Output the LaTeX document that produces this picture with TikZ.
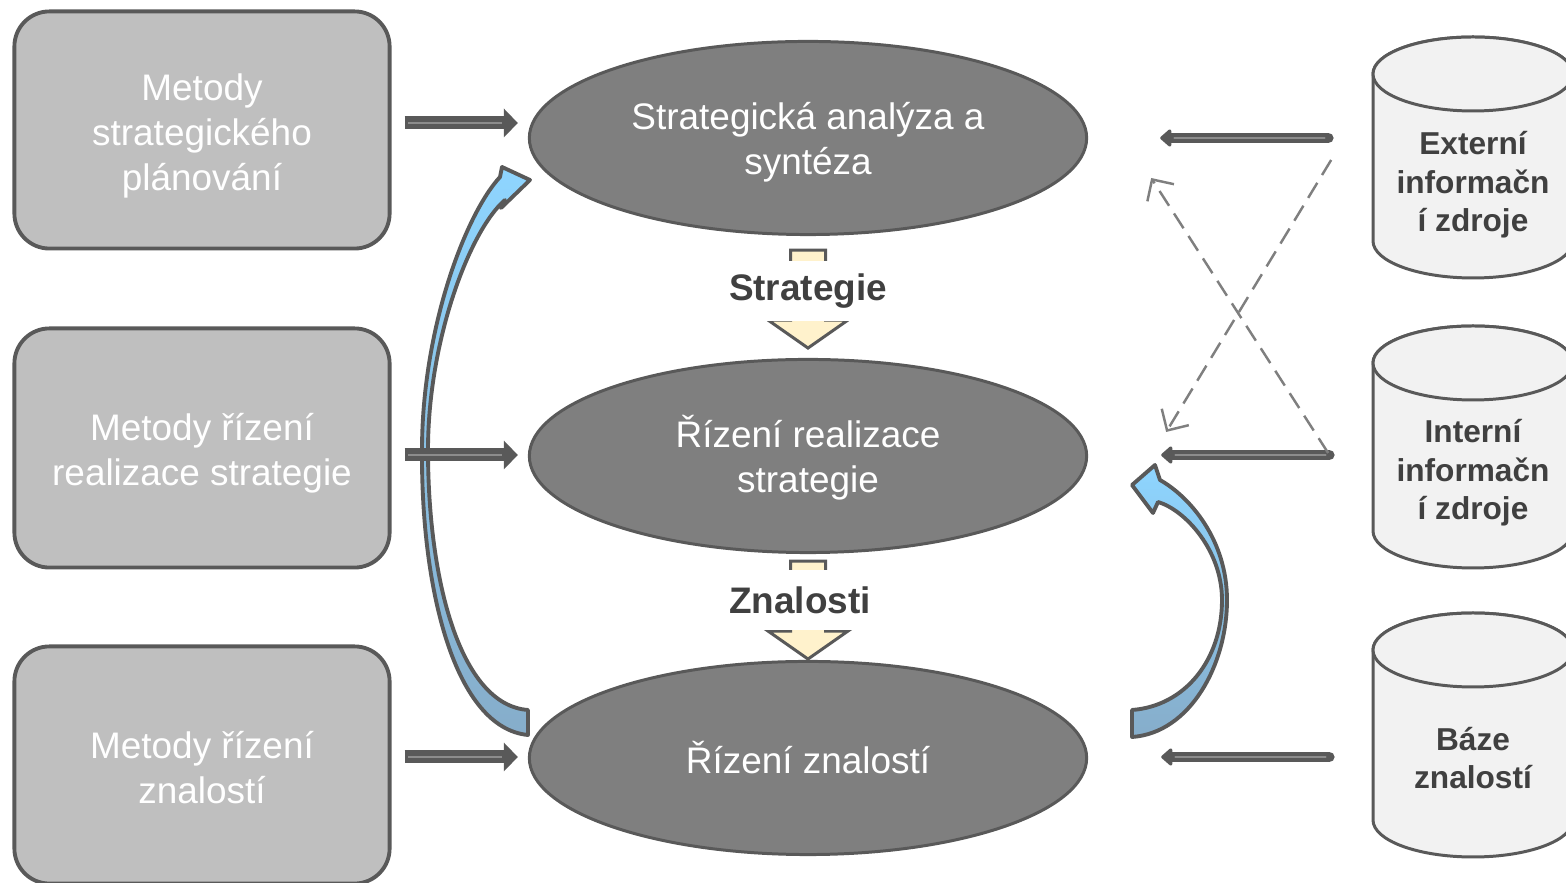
\documentclass[tikz,border=0pt]{standalone}
\usepackage{fontspec}
\setmainfont{Liberation Sans}
\usetikzlibrary{shapes.geometric,arrows.meta,calc}

\definecolor{edgegray}{HTML}{595959}
\definecolor{boxgray}{HTML}{BFBFBF}
\definecolor{ellgray}{HTML}{7F7F7F}
\definecolor{cylgray}{HTML}{F2F2F2}
\definecolor{labelgray}{HTML}{404040}
\definecolor{midgray}{HTML}{8C8C8C}
\definecolor{paleyellow}{HTML}{FFF2CC}
\definecolor{skyblue}{HTML}{8ED5FF}
\definecolor{steelblue}{HTML}{86ADCA}

\begin{document}
\begin{tikzpicture}[x=0.01cm, y=0.01cm,
  methodbox/.style={draw=edgegray, fill=boxgray, line width=1.1pt, rounded corners=0.35cm,
    minimum width=3.75cm, minimum height=2.37cm, text=white, align=center,
    font=\fontsize{10.5}{12.8}\selectfont},
  stageell/.style={ellipse, draw=edgegray, fill=ellgray, line width=0.85pt, inner sep=0pt,
    minimum width=5.57cm, minimum height=1.93cm, text=white, align=center,
    font=\fontsize{10.5}{12.8}\selectfont},
  cylbody/.style={draw=edgegray, fill=cylgray, line width=0.85pt},
  sourcetext/.style={text=labelgray, align=center, font=\bfseries\fontsize{9}{11}\selectfont},
  flowlabel/.style={fill=white, text=labelgray, minimum height=0.6cm, inner xsep=3pt,
    font=\bfseries\fontsize{10.5}{12.8}\selectfont},
  blockarr/.style={draw=edgegray, fill=paleyellow, line width=0.85pt},
  rightarr/.style={draw=edgegray, line width=3.7pt, -{Triangle[width=8pt,length=4pt]},
    postaction={draw=midgray, line width=0.6pt, -, shorten >=4.5pt, shorten <=1pt}},
  leftarr/.style={draw=edgegray, line width=3.1pt, line cap=round, -{Triangle[width=5.7pt,length=3.4pt,round]},
    postaction={draw=midgray, line width=0.5pt, -, shorten >=4pt, shorten <=1pt}},
  crossarr/.style={draw=ellgray, line width=0.7pt, dash pattern=on 5pt off 2.6pt,
    -{Straight Barb[length=4.5pt,width=9pt]}},
  bendarr/.style={draw=edgegray, line width=1.1pt, line join=round, top color=skyblue, bottom color=steelblue}
]
\useasboundingbox (0,0) rectangle (1566,-883);
\clip (0,0) rectangle (1566,-883);

% methods on the left
\node[methodbox] (plan) at (202,-130) {\rule{0pt}{11pt}Metody\\strategického\\plánování};
\node[methodbox, minimum height=2.39cm] (real) at (202,-448) {\rule{0pt}{10.5pt}Metody řízení\\realizace strategie};
\node[methodbox] (know) at (202,-765) {\rule{0pt}{9.4pt}Metody řízení\\znalostí};

% data sources on the right
\filldraw[cylbody] (1373,-74) -- (1373,-241) arc[start angle=180, end angle=360, x radius=100, y radius=37]
  -- (1573,-74) arc[start angle=0, end angle=180, x radius=100, y radius=37] -- cycle;
\draw[cylbody] (1473,-74) ellipse [x radius=100, y radius=37];
\filldraw[cylbody] (1373,-363) -- (1373,-531) arc[start angle=180, end angle=360, x radius=100, y radius=37]
  -- (1573,-363) arc[start angle=0, end angle=180, x radius=100, y radius=37] -- cycle;
\draw[cylbody] (1473,-363) ellipse [x radius=100, y radius=37];
\filldraw[cylbody] (1373,-650) -- (1373,-820) arc[start angle=180, end angle=360, x radius=100, y radius=37]
  -- (1573,-650) arc[start angle=0, end angle=180, x radius=100, y radius=37] -- cycle;
\draw[cylbody] (1473,-650) ellipse [x radius=100, y radius=37];
\node[sourcetext] (ext) at (1473,-185) {Externí\\informačn\\í zdroje};
\node[sourcetext] (int) at (1473,-473) {Interní\\informačn\\í zdroje};
\node[sourcetext] (kb) at (1473,-758) {Báze\\znalostí};

% feedback arrows
\draw[bendarr] (528,-735) .. controls (455,-728) and (421,-590) .. (422,-450)
  .. controls (422,-330) and (465,-215) .. (500,-177)
  -- (502,-167) -- (530,-180) -- (501,-208) -- (505,-200)
  .. controls (470,-230) and (428,-340) .. (428,-450)
  .. controls (428,-580) and (460,-705) .. (528,-710) -- cycle;
\draw[bendarr] (1132,-737) .. controls (1190,-733) and (1227,-665) .. (1227,-600)
  .. controls (1227,-540) and (1190,-497) .. (1160,-480)
  -- (1155,-465) -- (1132,-485) -- (1153,-513) -- (1158,-502)
  .. controls (1185,-510) and (1222,-550) .. (1222,-600)
  .. controls (1222,-660) and (1185,-706) .. (1132,-710) -- cycle;

% stages
\node[stageell] (anal) at (808,-138) {\rule{0pt}{10pt}Strategická analýza a\\syntéza};
\node[stageell] (impl) at (808,-456) {\rule{0pt}{10.4pt}Řízení realizace\\strategie};
\node[stageell] (kman) at (808,-758) {Řízení znalostí};

% flow between stages
\draw[blockarr] ($(anal.south)+(-17.5,-14)$) -- ++(35,0) -- ++(0,-70) -- ++(22.5,0)
  -- ++(-40,-28) -- ++(-40,28) -- ++(22.5,0) -- cycle;
\node[flowlabel, yshift=0.06cm] (strat) at ($(anal.south)!0.5!(impl.north)$) {Strategie};
\draw[blockarr] ($(impl.south)+(-17.5,-7)$) -- ++(35,0) -- ++(0,-70) -- ++(22.5,0)
  -- ++(-40,-28) -- ++(-40,28) -- ++(22.5,0) -- cycle;
\node[flowlabel, yshift=0.07cm, xshift=-0.08cm] (znal) at ($(impl.south)!0.5!(kman.north)$) {Znalosti};

% methods into stages
\draw[rightarr] ($(plan.east)+(13,7)$) -- ($(anal.west)+(-10,15)$);
\draw[rightarr] ($(real.east)+(13,-7)$) -- ($(impl.west)+(-10,1)$);
\draw[rightarr] ($(know.east)+(13,8)$) -- ($(kman.west)+(-10,1)$);

% sources into stages
\draw[leftarr] ($(anal.east)+(240,0)$) -- ($(anal.east)+(72,0)$);
\draw[leftarr] ($(impl.east)+(241,1)$) -- ($(impl.east)+(73,1)$);
\draw[leftarr] ($(kman.east)+(241,1)$) -- ($(kman.east)+(73,1)$);
\draw[crossarr] ($(anal.east)+(243,-22)$) -- ($(impl.east)+(78,24)$);
\draw[crossarr] ($(impl.east)+(240,3)$) -- ($(anal.east)+(63,-40)$);

\end{tikzpicture}
\end{document}
